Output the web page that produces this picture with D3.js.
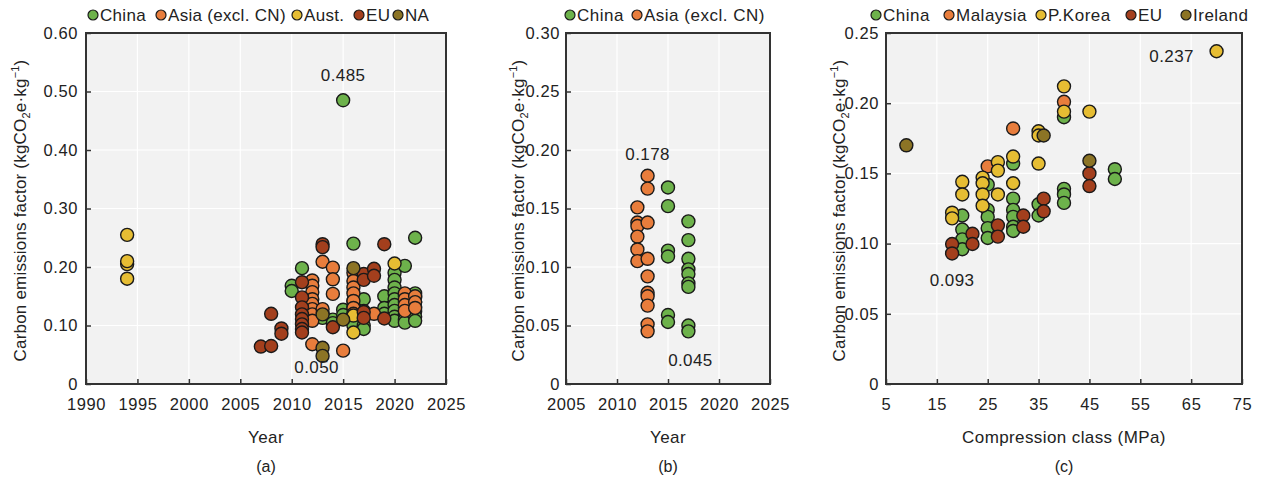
<!DOCTYPE html>
<html>
<head>
<meta charset="utf-8">
<script src="https://cdn.jsdelivr.net/npm/d3@7"></script>
<style>
  body { margin: 0; background: #fff; }
  text { font-family: "Liberation Sans", Arial, sans-serif; fill: #222; }
</style>
</head>
<body>
<script>
// colours per region
const colors = {
  China: '#6db24b', Asia: '#e87d3c', Aust: '#e6bd33', EU: '#a33f1d', NA: '#8c7425',
  Malaysia: '#e87d3c', Korea: '#e6bd33', Ireland: '#8c7425'
}

// ---- panel (a): year vs factor
const aChina = [[2010,0.168],[2010,0.159],[2011,0.198],[2013,0.12],[2013,0.113],[2014,0.11],[2014,0.104],
  [2015,0.485],[2015,0.127],[2015,0.118],[2016,0.24],[2016,0.142],[2016,0.131],[2016,0.12],[2016,0.1],
  [2017,0.145],[2017,0.125],[2017,0.1],[2017,0.094],[2019,0.15],[2019,0.13],[2019,0.12],
  [2020,0.19],[2020,0.178],[2020,0.165],[2020,0.155],[2020,0.145],[2020,0.135],[2020,0.125],[2020,0.115],[2020,0.108],
  [2021,0.202],[2021,0.15],[2021,0.14],[2021,0.13],[2021,0.12],[2021,0.11],[2021,0.105],
  [2022,0.25],[2022,0.155],[2022,0.148],[2022,0.14],[2022,0.132],[2022,0.124],[2022,0.115],[2022,0.108]]
const aAsia = [[2012,0.177],[2012,0.168],[2012,0.157],[2012,0.145],[2012,0.137],[2012,0.128],[2012,0.119],[2012,0.108],[2012,0.068],
  [2013,0.209],[2013,0.128],[2014,0.199],[2014,0.179],[2014,0.154],[2015,0.057],
  [2016,0.19],[2016,0.176],[2016,0.165],[2016,0.155],[2016,0.142],[2016,0.13],[2016,0.12],
  [2018,0.12],[2021,0.155],[2021,0.145],[2021,0.135],[2021,0.125],[2022,0.15],[2022,0.14],[2022,0.13]]
const aAust = [[1994,0.255],[1994,0.205],[1994,0.21],[1994,0.18],[2016,0.117],[2016,0.088],[2020,0.206]]
const aEU = [[2007,0.064],[2008,0.065],[2008,0.12],[2009,0.095],[2009,0.086],
  [2011,0.174],[2011,0.148],[2011,0.131],[2011,0.119],[2011,0.111],[2011,0.102],[2011,0.094],[2011,0.088],
  [2013,0.239],[2013,0.234],[2014,0.097],[2017,0.188],[2017,0.178],[2017,0.123],[2017,0.113],
  [2018,0.197],[2018,0.185],[2019,0.239],[2019,0.112]]
const aNA = [[2013,0.119],[2013,0.062],[2013,0.048],[2015,0.11],[2016,0.198]]

// ---- panel (b)
const bChina = [[2015,0.168],[2015,0.152],[2015,0.114],[2015,0.109],[2015,0.059],[2015,0.053],
  [2017,0.139],[2017,0.123],[2017,0.107],[2017,0.098],[2017,0.094],[2017,0.086],[2017,0.083],[2017,0.05],[2017,0.045]]
const bAsia = [[2012,0.151],[2012,0.138],[2012,0.135],[2012,0.126],[2012,0.115],[2012,0.105],
  [2013,0.178],[2013,0.167],[2013,0.138],[2013,0.107],[2013,0.092],[2013,0.078],[2013,0.075],[2013,0.067],[2013,0.051],[2013,0.045]]

// ---- panel (c): compression class vs factor
const cChina = [[20,0.12],[20,0.11],[20,0.103],[20,0.096],[25,0.142],[25,0.124],[25,0.119],[25,0.111],[25,0.104],
  [30,0.157],[30,0.132],[30,0.124],[30,0.119],[30,0.112],[30,0.109],[35,0.128],[35,0.12],
  [40,0.19],[40,0.139],[40,0.135],[40,0.129],[50,0.153],[50,0.146]]
const cMalaysia = [[25,0.155],[30,0.182],[40,0.201]]
const cKorea = [[18,0.122],[18,0.118],[20,0.144],[20,0.135],[24,0.147],[24,0.143],[24,0.135],[24,0.127],
  [27,0.158],[27,0.152],[27,0.135],[30,0.162],[30,0.143],[35,0.18],[35,0.177],[35,0.157],
  [40,0.212],[40,0.194],[45,0.194],[70,0.237]]
const cEU = [[18,0.0997],[18,0.093],[22,0.107],[22,0.0997],[27,0.113],[27,0.105],[32,0.12],[32,0.112],
  [36,0.132],[36,0.123],[45,0.15],[45,0.141]]
const cIreland = [[9,0.17],[36,0.177],[45,0.159]]

const yTicksA = [0, 0.1, 0.2, 0.3, 0.4, 0.5, 0.6]
const yTicksB = [0, 0.05, 0.1, 0.15, 0.2, 0.25, 0.3]
const yTicksC = [0, 0.05, 0.1, 0.15, 0.2, 0.25]
const xTicksA = [1990, 1995, 2000, 2005, 2010, 2015, 2020, 2025]
const xTicksB = [2005, 2010, 2015, 2020, 2025]
const xTicksC = [5, 15, 25, 35, 45, 55, 65, 75]

const svg = d3.select('body').append('svg')
  .attr('width', 1263)
  .attr('height', 481)

const fmt = d => d === 0 ? '0' : d3.format('.2f')(d)

function drawPanel(p) {
  const x = d3.scaleLinear().domain(p.xDomain).range([p.left, p.right])
  const y = d3.scaleLinear().domain(p.yDomain).range([p.bottom, p.top])
  const g = svg.append('g')

  g.append('rect')
    .attr('x', p.left).attr('y', p.top)
    .attr('width', p.right - p.left).attr('height', p.bottom - p.top)
    .attr('fill', '#f2f2f2')

  // grid
  g.selectAll('.gx').data(p.xTicks.slice(1, -1)).join('line')
    .attr('x1', d => x(d)).attr('x2', d => x(d))
    .attr('y1', p.top).attr('y2', p.bottom)
    .attr('stroke', '#fff').attr('stroke-width', 1.2)
  g.selectAll('.gy').data(p.yTicks.slice(1, -1)).join('line')
    .attr('y1', d => y(d)).attr('y2', d => y(d))
    .attr('x1', p.left).attr('x2', p.right)
    .attr('stroke', '#fff').attr('stroke-width', 1.2)

  // axes, ticks inward
  const xAxis = d3.axisBottom(x).tickValues(p.xTicks).tickSize(-5).tickPadding(14).tickFormat(d3.format('d'))
  const yAxis = d3.axisLeft(y).tickValues(p.yTicks).tickSize(-5).tickPadding(p.yPad).tickFormat(fmt)
  const gx = g.append('g').attr('transform', `translate(0,${p.bottom})`).call(xAxis)
  const gy = g.append('g').attr('transform', `translate(${p.left},0)`).call(yAxis)
  ;[gx, gy].forEach(a => {
    a.select('.domain').remove()
    a.selectAll('line').attr('stroke', '#333').attr('stroke-width', 1.5)
    a.selectAll('text').style('font-size', '16.5px').style('letter-spacing', '0.6px').attr('fill', '#222')
  })
  gx.selectAll('text').attr('dy', '0.71em')

  g.append('rect')
    .attr('x', p.left).attr('y', p.top)
    .attr('width', p.right - p.left).attr('height', p.bottom - p.top)
    .attr('fill', 'none').attr('stroke', '#333').attr('stroke-width', 2)

  // points
  p.series.forEach(s => {
    g.append('g').selectAll('circle').data(s.data).join('circle')
      .attr('cx', d => x(d[0])).attr('cy', d => y(d[1]))
      .attr('r', 6.5)
      .attr('fill', colors[s.key])
      .attr('stroke', '#1a1a1a').attr('stroke-width', 1.4)
  })

  // annotations
  p.notes.forEach(n => {
    g.append('text').attr('x', x(n[0]) + n[2]).attr('y', y(n[1]) + n[3])
      .attr('text-anchor', 'middle').style('font-size', '17px').style('letter-spacing', '0.4px')
      .text(d3.format('.3f')(n[1]))
  })

  // legend, dot positions
  p.series.forEach((s, i) => {
    const lx = p.legendX[i]
    g.append('circle').attr('cx', lx).attr('cy', 15).attr('r', 5)
      .attr('fill', colors[s.key]).attr('stroke', '#1a1a1a').attr('stroke-width', 1.2)
    g.append('text').attr('x', lx + 7).attr('y', 21)
      .style('font-size', '17px').style('letter-spacing', p.legendLs).text(s.label)
  })

  // titles
  const cx = (p.left + p.right) / 2
  g.append('text').attr('x', cx).attr('y', 443).attr('text-anchor', 'middle')
    .style('font-size', '17px').style('letter-spacing', '0.4px').text(p.xTitle)
  g.append('text').attr('x', cx).attr('y', 472).attr('text-anchor', 'middle')
    .style('font-size', '16px').text(p.tag)

  const yt = g.append('text')
    .attr('transform', `translate(${p.yTitleX},${(p.top + p.bottom) / 2 + 2}) rotate(-90)`)
    .attr('text-anchor', 'middle').style('font-size', '17px').style('letter-spacing', '0.2px')
  yt.append('tspan').text('Carbon emissions factor (kgCO')
  yt.append('tspan').attr('dy', 4).style('font-size', '11px').text('2')
  yt.append('tspan').attr('dy', -4).text('e·kg')
  yt.append('tspan').attr('dy', -7).style('font-size', '11px').text('−1')
  yt.append('tspan').attr('dy', 7).text(')')
}

drawPanel({
  left: 86, right: 446, top: 33, bottom: 384, yPad: 8,
  xDomain: [1990, 2025], yDomain: [0, 0.6], xTicks: xTicksA, yTicks: yTicksA,
  yTitleX: 26, xTitle: 'Year', tag: '(a)', legendX: [93, 161, 297, 359, 398], legendLs: '0.3px',
  series: [
    { key: 'China', label: 'China', data: aChina },
    { key: 'Asia', label: 'Asia (excl. CN)', data: aAsia },
    { key: 'Aust', label: 'Aust.', data: aAust },
    { key: 'EU', label: 'EU', data: aEU },
    { key: 'NA', label: 'NA', data: aNA }
  ],
  notes: [[2015, 0.485, 0, -19], [2013, 0.05, -6, 18]]
})

drawPanel({
  left: 566, right: 770, top: 33, bottom: 384, yPad: 6,
  xDomain: [2005, 2025], yDomain: [0, 0.3], xTicks: xTicksB, yTicks: yTicksB,
  yTitleX: 524, xTitle: 'Year', tag: '(b)', legendX: [570, 637], legendLs: '0.5px',
  series: [
    { key: 'China', label: 'China', data: bChina },
    { key: 'Asia', label: 'Asia (excl. CN)', data: bAsia }
  ],
  notes: [[2013, 0.178, 0, -16], [2017, 0.045, 2, 35]]
})

drawPanel({
  left: 886, right: 1242, top: 33, bottom: 384, yPad: 7,
  xDomain: [5, 75], yDomain: [0, 0.25], xTicks: xTicksC, yTicks: yTicksC,
  yTitleX: 845, xTitle: 'Compression class (MPa)', tag: '(c)', legendX: [876, 949, 1041, 1131, 1186], legendLs: '0.5px',
  series: [
    { key: 'China', label: 'China', data: cChina },
    { key: 'Malaysia', label: 'Malaysia', data: cMalaysia },
    { key: 'Korea', label: 'P.Korea', data: cKorea },
    { key: 'EU', label: 'EU', data: cEU },
    { key: 'Ireland', label: 'Ireland', data: cIreland }
  ],
  notes: [[70, 0.237, -45, 11], [18, 0.093, 0, 33]]
})
</script>
</body>
</html>
